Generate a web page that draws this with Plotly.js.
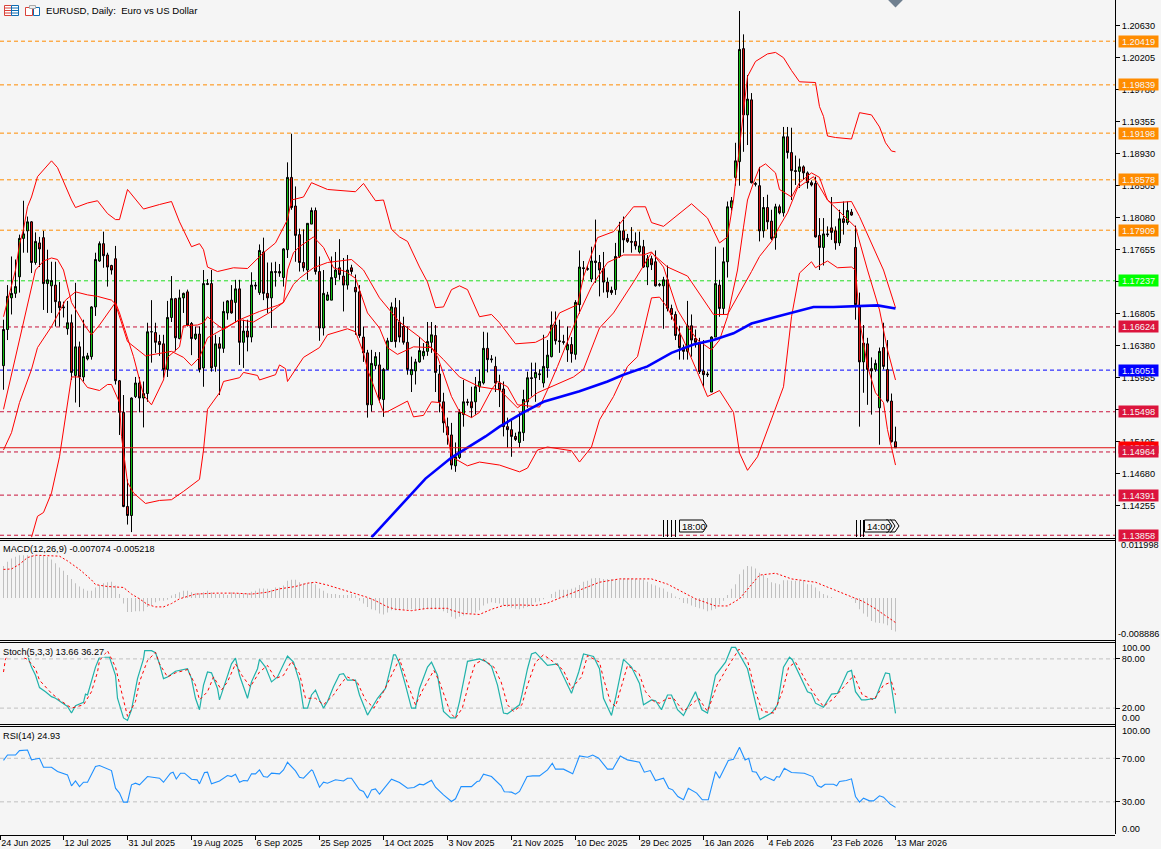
<!DOCTYPE html>
<html><head><meta charset="utf-8">
<script src="https://cdn.plot.ly/plotly-3.0.1.min.js"></script>
<style>html,body{margin:0;padding:0;background:#f5f5f5;overflow:hidden}</style>
</head><body><div id="chart" style="width:1161px;height:849px"></div>
<script>
const tickLabels=["24 Jun 2025","12 Jul 2025","31 Jul 2025","19 Aug 2025","6 Sep 2025","25 Sep 2025","14 Oct 2025","3 Nov 2025","21 Nov 2025","10 Dec 2025","29 Dec 2025","16 Jan 2026","4 Feb 2026","23 Feb 2026","13 Mar 2026"];
const tickBars=[-0.8,15,31,47,63,79,95,111,127,143,159,175,191,207,223];
const priceTicks=[1.20630,1.20205,1.19780,1.19355,1.18930,1.18505,1.18080,1.17655,1.17230,1.16805,1.16380,1.15955,1.15530,1.15105,1.14680,1.14255];

const open=[
1.1611,1.1659,1.1701,1.1707,1.1729,1.1780,1.1790,1.1802,1.1748,1.1774,
1.1781,1.1720,1.1717,1.1718,1.1696,1.1689,1.1660,1.1668,1.1598,1.1636,
1.1596,1.1620,1.1623,1.1689,1.1750,1.1773,1.1758,1.1744,1.1753,1.1591,
1.1549,1.1424,1.1412,1.1570,1.1588,1.1568,1.1574,1.1656,1.1655,1.1643,
1.1640,1.1606,1.1675,1.1700,1.1647,1.1701,1.1709,1.1667,1.1647,1.1653,
1.1608,1.1720,1.1720,1.1610,1.1640,1.1634,1.1681,1.1698,1.1695,1.1713,
1.1642,1.1657,1.1649,1.1718,1.1708,1.1762,1.1707,1.1701,1.1736,1.1736,
1.1728,1.1765,1.1861,1.1823,1.1785,1.1748,1.1738,1.1799,1.1817,1.1736,
1.1661,1.1698,1.1698,1.1728,1.1741,1.1730,1.1718,1.1741,1.1715,1.1709,
1.1649,1.1628,1.1559,1.1611,1.1612,1.1566,1.1606,1.1643,1.1688,1.1669,
1.1663,1.1642,1.1599,1.1604,1.1616,1.1624,1.1630,1.1642,1.1651,1.1600,
1.1563,1.1530,1.1519,1.1478,1.1489,1.1546,1.1563,1.1563,1.1563,1.1583,
1.1588,1.1634,1.1620,1.1610,1.1588,1.1580,1.1530,1.1526,1.1517,1.1509,
1.1522,1.1563,1.1595,1.1595,1.1599,1.1588,1.1608,1.1623,1.1665,1.1644,
1.1643,1.1632,1.1639,1.1626,1.1692,1.1741,1.1740,1.1726,1.1750,1.1748,
1.1740,1.1722,1.1711,1.1712,1.1756,1.1790,1.1780,1.1776,1.1776,1.1762,
1.1769,1.1742,1.1753,1.1749,1.1719,1.1717,1.1725,1.1687,1.1679,1.1652,
1.1635,1.1630,1.1664,1.1647,1.1642,1.1604,1.1600,1.1576,1.1649,1.1718,
1.1687,1.1749,1.1821,1.1861,1.1882,1.2032,1.1944,1.1964,1.1853,1.1850,
1.1790,1.1821,1.1803,1.1781,1.1822,1.1814,1.1915,1.1894,1.1870,1.1869,
1.1875,1.1867,1.1854,1.1853,1.1784,1.1768,1.1786,1.1794,1.1790,1.1774,
1.1806,1.1801,1.1815,1.1768,1.1689,1.1616,1.1640,1.1607,1.1606,1.1555,
1.1635,1.1606,1.1564,1.1510];
const high=[
1.1672,1.1718,1.1756,1.1752,1.1785,1.1830,1.1809,1.1803,1.1788,1.1782,
1.1790,1.1765,1.1749,1.1749,1.1722,1.1696,1.1697,1.1679,1.1721,1.1643,
1.1672,1.1628,1.1690,1.1761,1.1776,1.1789,1.1761,1.1745,1.1770,1.1592,
1.1572,1.1460,1.1569,1.1596,1.1596,1.1590,1.1668,1.1698,1.1668,1.1652,
1.1652,1.1697,1.1730,1.1701,1.1712,1.1708,1.1712,1.1669,1.1663,1.1663,
1.1738,1.1726,1.1738,1.1652,1.1649,1.1696,1.1698,1.1718,1.1725,1.1725,
1.1672,1.1672,1.1735,1.1722,1.1772,1.1781,1.1748,1.1748,1.1749,1.1746,
1.1767,1.1881,1.1919,1.1849,1.1793,1.1792,1.1800,1.1821,1.1821,1.1756,
1.1738,1.1709,1.1756,1.1762,1.1779,1.1754,1.1758,1.1745,1.1732,1.1718,
1.1663,1.1632,1.1632,1.1629,1.1629,1.1608,1.1648,1.1695,1.1701,1.1698,
1.1676,1.1663,1.1623,1.1620,1.1649,1.1641,1.1669,1.1669,1.1665,1.1612,
1.1575,1.1542,1.1535,1.1509,1.1553,1.1592,1.1567,1.1583,1.1596,1.1606,
1.1656,1.1655,1.1625,1.1623,1.1599,1.1590,1.1542,1.1539,1.1522,1.1549,
1.1579,1.1603,1.1615,1.1615,1.1606,1.1652,1.1645,1.1683,1.1683,1.1672,
1.1652,1.1663,1.1649,1.1698,1.1764,1.1750,1.1744,1.1769,1.1805,1.1758,
1.1762,1.1728,1.1716,1.1774,1.1802,1.1809,1.1786,1.1795,1.1788,1.1789,
1.1778,1.1758,1.1757,1.1764,1.1721,1.1729,1.1744,1.1692,1.1683,1.1664,
1.1639,1.1697,1.1679,1.1659,1.1648,1.1645,1.1603,1.1650,1.1769,1.1725,
1.1768,1.1829,1.1835,1.1907,1.2082,1.2051,1.1997,1.1973,1.1855,1.1875,
1.1835,1.1838,1.1818,1.1826,1.1825,1.1928,1.1928,1.1927,1.1890,1.1886,
1.1877,1.1869,1.1857,1.1862,1.1807,1.1807,1.1796,1.1835,1.1796,1.1818,
1.1829,1.1829,1.1819,1.1797,1.1708,1.1665,1.1648,1.1622,1.1619,1.1635,
1.1668,1.1645,1.1574,1.1530];
const low=[
1.1579,1.1645,1.1679,1.1701,1.1708,1.1761,1.1761,1.1734,1.1745,1.1742,
1.1685,1.1681,1.1681,1.1663,1.1663,1.1675,1.1652,1.1592,1.1562,1.1556,
1.1590,1.1618,1.1619,1.1677,1.1749,1.1741,1.1716,1.1732,1.1586,1.1519,
1.1423,1.1400,1.1390,1.1568,1.1549,1.1529,1.1563,1.1615,1.1628,1.1624,
1.1595,1.1596,1.1669,1.1630,1.1646,1.1681,1.1663,1.1625,1.1645,1.1602,
1.1583,1.1718,1.1603,1.1603,1.1572,1.1628,1.1672,1.1680,1.1669,1.1612,
1.1608,1.1630,1.1642,1.1712,1.1705,1.1698,1.1681,1.1661,1.1716,1.1729,
1.1716,1.1754,1.1818,1.1749,1.1736,1.1736,1.1725,1.1799,1.1732,1.1644,
1.1651,1.1697,1.1698,1.1718,1.1725,1.1683,1.1712,1.1732,1.1652,1.1648,
1.1616,1.1542,1.1550,1.1606,1.1562,1.1543,1.1606,1.1643,1.1635,1.1642,
1.1639,1.1599,1.1576,1.1586,1.1615,1.1619,1.1624,1.1628,1.1576,1.1549,
1.1522,1.1506,1.1473,1.1470,1.1487,1.1530,1.1558,1.1542,1.1546,1.1576,
1.1586,1.1602,1.1615,1.1576,1.1556,1.1517,1.1502,1.1490,1.1511,1.1502,
1.1511,1.1555,1.1570,1.1563,1.1592,1.1582,1.1595,1.1622,1.1639,1.1628,
1.1639,1.1616,1.1615,1.1619,1.1680,1.1725,1.1737,1.1722,1.1721,1.1703,
1.1708,1.1701,1.1705,1.1705,1.1754,1.1761,1.1774,1.1761,1.1765,1.1760,
1.1741,1.1718,1.1738,1.1716,1.1716,1.1660,1.1683,1.1672,1.1645,1.1619,
1.1619,1.1619,1.1623,1.1635,1.1600,1.1583,1.1596,1.1576,1.1649,1.1676,
1.1679,1.1728,1.1817,1.1850,1.1850,1.1895,1.1904,1.1853,1.1849,1.1776,
1.1781,1.1792,1.1778,1.1765,1.1812,1.1809,1.1886,1.1831,1.1851,1.1847,
1.1858,1.1846,1.1849,1.1781,1.1738,1.1744,1.1782,1.1778,1.1765,1.1770,
1.1785,1.1798,1.1810,1.1672,1.1530,1.1575,1.1559,1.1546,1.1603,1.1506,
1.1606,1.1562,1.1509,1.1502];
const close=[
1.1659,1.1703,1.1707,1.1716,1.1780,1.1786,1.1802,1.1748,1.1776,1.1766,
1.1720,1.1725,1.1724,1.1696,1.1688,1.1688,1.1668,1.1602,1.1636,1.1596,
1.1623,1.1624,1.1689,1.1752,1.1773,1.1757,1.1742,1.1738,1.1591,1.1549,
1.1424,1.1412,1.1568,1.1588,1.1568,1.1574,1.1656,1.1656,1.1642,1.1639,
1.1606,1.1675,1.1700,1.1648,1.1701,1.1707,1.1665,1.1647,1.1653,1.1606,
1.1720,1.1719,1.1608,1.1640,1.1634,1.1683,1.1697,1.1681,1.1713,1.1642,
1.1657,1.1649,1.1718,1.1717,1.1764,1.1707,1.1701,1.1736,1.1735,1.1734,
1.1766,1.1861,1.1821,1.1784,1.1748,1.1741,1.1800,1.1817,1.1736,1.1661,
1.1707,1.1705,1.1728,1.1738,1.1732,1.1718,1.1738,1.1736,1.1709,1.1651,
1.1628,1.1559,1.1614,1.1623,1.1567,1.1606,1.1644,1.1689,1.1643,1.1649,
1.1642,1.1606,1.1606,1.1616,1.1631,1.1630,1.1643,1.1652,1.1602,1.1563,
1.1535,1.1519,1.1479,1.1490,1.1549,1.1563,1.1562,1.1555,1.1583,1.1590,
1.1634,1.1619,1.1619,1.1588,1.1579,1.1530,1.1526,1.1517,1.1513,1.1523,
1.1566,1.1595,1.1594,1.1602,1.1600,1.1610,1.1625,1.1665,1.1644,1.1643,
1.1642,1.1639,1.1627,1.1695,1.1742,1.1740,1.1739,1.1750,1.1748,1.1738,
1.1722,1.1709,1.1708,1.1756,1.1790,1.1778,1.1776,1.1775,1.1770,1.1770,
1.1742,1.1753,1.1745,1.1717,1.1718,1.1725,1.1687,1.1679,1.1651,1.1635,
1.1630,1.1664,1.1645,1.1642,1.1603,1.1599,1.1599,1.1649,1.1720,1.1687,
1.1749,1.1822,1.1830,1.1883,1.2031,1.1944,1.1965,1.1854,1.1852,1.1790,
1.1821,1.1802,1.1780,1.1822,1.1814,1.1915,1.1894,1.1870,1.1869,1.1875,
1.1867,1.1854,1.1851,1.1782,1.1768,1.1786,1.1785,1.1788,1.1774,1.1806,
1.1801,1.1817,1.1811,1.1692,1.1616,1.1641,1.1606,1.1604,1.1614,1.1630,
1.1610,1.1564,1.1510,1.1502];

const bandUpperBar=[0,1,3,4,5,6,7,8.5,10,12,13.5,15,17,18,21,23.5,26,28,29,31,35,39,42,44,47,49,50,51,53.5,57.5,61,65,68,71,72,75,77,81,88,90,93,95,97,99,101,104,106,108,110,112,114,116,119,122,124,128,133,136,139,143.5,145,148.5,152.5,157.5,160.5,162,165,172,176,179,181,182.5,185,186,188,191,193,195,197,199,203,204,205,206,208,212,214,217,219,220.5,222,223];
const bandUpper=[1.1676,1.1698,1.1738,1.1772,1.1792,1.1822,1.1835,1.1862,1.1871,1.1883,1.1874,1.1855,1.1831,1.1821,1.1827,1.1830,1.1813,1.1805,1.1805,1.1845,1.1819,1.1825,1.1829,1.1802,1.1769,1.1773,1.1765,1.1742,1.1736,1.1741,1.1740,1.1761,1.1774,1.1805,1.1831,1.1835,1.1854,1.1845,1.1842,1.1853,1.1830,1.1831,1.1792,1.1782,1.1776,1.1742,1.1722,1.1688,1.1689,1.1712,1.1717,1.1712,1.1676,1.1679,1.1668,1.1640,1.1642,1.1650,1.1681,1.1692,1.1729,1.1781,1.1789,1.1822,1.1822,1.1801,1.1796,1.1826,1.1807,1.1774,1.1782,1.1831,1.1947,1.1995,1.2015,1.2025,1.2027,1.2020,1.2003,1.1988,1.1987,1.1955,1.1942,1.1916,1.1914,1.1912,1.1947,1.1944,1.1928,1.1907,1.1896,1.1895];
const bandMidBar=[0,2,4,7,8.5,12,15.5,18,21,23.5,27,28,31,35.5,42,45,47,49,51,55,59,64,68.5,70,72.5,74,77.5,81,87,90,94,99,104,107.5,110,114,119,124,128.5,133.5,140,142.5,145,149,152.5,157.5,162,166,171,177.5,181,185,187,189,192,194,196,198.5,202.5,206,207,212,214,220,223];
const bandMid=[1.1499,1.1522,1.1562,1.1606,1.1635,1.1663,1.1698,1.1709,1.1705,1.1703,1.1698,1.1693,1.1643,1.1624,1.1630,1.1622,1.1611,1.1622,1.1648,1.1660,1.1672,1.1683,1.1691,1.1695,1.1719,1.1727,1.1741,1.1748,1.1752,1.1738,1.1701,1.1669,1.1649,1.1632,1.1619,1.1596,1.1583,1.1579,1.1555,1.1575,1.1590,1.1596,1.1606,1.1661,1.1681,1.1722,1.1761,1.1742,1.1730,1.1679,1.1679,1.1716,1.1736,1.1756,1.1776,1.1796,1.1814,1.1847,1.1862,1.1831,1.1827,1.1829,1.1809,1.1738,1.1688];
const bandLowerBar=[7,8.5,10,12,14,16,17,19,21,24,26,27,29,29.5,31,32.5,35.5,39,42,45,49,50,51,54,55,59,60,63.5,64,68,69,70.5,71,75,79,81,86,88,90,91,94,95,96,99,101,102.5,105,107,109,110,112,116,119,124,129,131,133.5,136,142,144,147,149,152.5,156,158.5,162,164,166,170,173.5,176,179,182.5,184,186,188.5,192.5,195,197,199,202,203,206,208.5,212,213,214,216,218,220,221,223];
const bandLower=[1.1383,1.1411,1.1416,1.1442,1.1490,1.1562,1.1596,1.1596,1.1582,1.1578,1.1586,1.1586,1.1562,1.1517,1.1456,1.1442,1.1428,1.1432,1.1433,1.1444,1.1460,1.1499,1.1553,1.1575,1.1590,1.1595,1.1602,1.1598,1.1592,1.1599,1.1612,1.1607,1.1590,1.1622,1.1635,1.1652,1.1660,1.1656,1.1628,1.1606,1.1562,1.1549,1.1550,1.1559,1.1564,1.1543,1.1545,1.1563,1.1562,1.1549,1.1490,1.1478,1.1483,1.1479,1.1470,1.1475,1.1499,1.1503,1.1498,1.1483,1.1503,1.1539,1.1570,1.1610,1.1623,1.1701,1.1702,1.1688,1.1645,1.1602,1.1570,1.1578,1.1549,1.1495,1.1472,1.1490,1.1549,1.1583,1.1676,1.1734,1.1749,1.1741,1.1750,1.1741,1.1742,1.1738,1.1672,1.1610,1.1575,1.1562,1.1526,1.1479];
const fastMaBar=[0,8,10,12,13.5,15,17,20.5,22,24,28,29,32.5,35,37,40,41,44,45,48.5,50,51,52.5,55,59,62.5,67,70,71,72.5,74,77.5,80,82.5,85.5,88,91,94,96,98.5,102.5,107,108.5,112,114,117,119,122,123.5,126,128.5,134,136,138.5,143.5,147,151,155,160,162,165,168.5,171,173.5,177,179,181,182.5,183.5,185,186,187.5,189,190.5,193,194,197,199,202,204,206,213,216,219,221,223];
const fastMa=[1.1553,1.1738,1.1750,1.1754,1.1752,1.1738,1.1695,1.1663,1.1652,1.1665,1.1695,1.1681,1.1623,1.1572,1.1559,1.1592,1.1622,1.1636,1.1664,1.1665,1.1668,1.1676,1.1669,1.1659,1.1672,1.1669,1.1683,1.1695,1.1738,1.1761,1.1769,1.1782,1.1768,1.1741,1.1736,1.1727,1.1681,1.1661,1.1635,1.1626,1.1636,1.1635,1.1623,1.1570,1.1550,1.1542,1.1549,1.1579,1.1590,1.1583,1.1559,1.1556,1.1579,1.1610,1.1676,1.1716,1.1748,1.1758,1.1758,1.1762,1.1742,1.1685,1.1663,1.1645,1.1632,1.1645,1.1676,1.1716,1.1738,1.1795,1.1831,1.1854,1.1874,1.1879,1.1867,1.1845,1.1835,1.1854,1.1867,1.1861,1.1831,1.1795,1.1738,1.1685,1.1632,1.1592];
const slowMaBar=[92,99,105.5,112,120.5,124,130,135,139.5,144,151,155,161,167,172.5,177.5,182.5,187,192.5,197,202.5,207.5,218.5,223];
const slowMa=[1.1383,1.1423,1.1461,1.1489,1.1517,1.1530,1.1549,1.1563,1.1570,1.1577,1.1590,1.1599,1.1610,1.1628,1.1639,1.1645,1.1654,1.1667,1.1675,1.1681,1.1689,1.1689,1.1691,1.1687];

const levelsOrange=[1.20419,1.19839,1.19198,1.18578,1.17909];
const levelsGreen=[1.17237];
const levelsCrimson=[1.16624,1.15498,1.14964,1.14391,1.13858];
const levelsBlue=[1.16051];
const lastPrice=1.15020;

const macdHist=[
.0067,.0076,.0083,.0087,.0090,.0090,.0090,.0090,.0090,.0090,.0090,.0087,.0081,.0073,.0064,.0057,.0048,.0040,.0031,.0024,
.0019,.0015,.0015,.0022,.0027,.0031,.0033,.0034,.0026,.0008,-.0012,-.0030,-.0030,-.0028,-.0028,-.0028,-.0019,-.0015,-.0009,-.0006,
-.0006,-.0004,.0005,.0008,.0012,.0015,.0015,.0012,.0010,.0010,.0012,.0015,.0012,.0008,.0008,.0008,.0006,.0012,.0010,.0010,
.0010,.0010,.0013,.0015,.0020,.0020,.0019,.0017,.0022,.0022,.0026,.0036,.0038,.0038,.0033,.0031,.0031,.0033,.0029,.0020,
.0015,.0010,.0008,.0008,.0006,.0006,.0006,.0008,.0005,-.0006,-.0012,-.0019,-.0024,-.0026,-.0033,-.0035,-.0031,-.0026,-.0026,-.0026,
-.0024,-.0024,-.0024,-.0024,-.0024,-.0024,-.0024,-.0024,-.0024,-.0024,-.0028,-.0032,
-.0040,-.0044,-.0040,-.0037,-.0033,-.0033,-.0031,-.0026,-.0016,-.0012,-.0009,-.0011,-.0012,-.0016,-.0019,-.0021,-.0023,-.0024,-.0022,-.0019,
-.0016,-.0009,-.0007,-.0003,.0000,.0008,.0013,.0017,.0017,.0017,.0019,.0022,.0027,.0034,.0036,.0041,.0042,.0042,.0040,.0040,
.0040,.0038,.0038,.0041,.0041,.0041,.0040,.0038,.0038,.0034,.0029,.0026,.0022,.0020,.0013,.0010,.0003,-.0003,-.0011,-.0012,
-.0016,-.0019,-.0022,-.0024,-.0028,-.0026,-.0023,-.0014,-.0006,.0006,.0019,.0029,.0050,.0060,.0067,.0066,.0062,.0053,.0048,.0042,
.0033,.0031,.0029,.0037,.0037,.0036,.0036,.0036,.0036,.0029,.0028,.0022,.0014,.0008,.0005,.0002,.0000,.0000,.0000,.0000,
-.0002,-.0011,-.0024,-.0033,-.0040,-.0049,-.0052,-.0053,-.0054,-.0058,-.0068,-.0071];
const macdSigBar=[0,2,4,6,8,14,16,19,22,23,26,30,32,34,36,38,40,42,44,46,48,53,58,62,66,69,73,76,78,81,84,88,91,93,96,98,102,106,111,112,115,119,122,125,129,133,136,140,145,149,154,162,166,169,173,178,181,184,187,189,193,197,203,207,211,215,218,223];
const macdSignal=[.0060,.0061,.0071,.0085,.0090,.0088,.0078,.0060,.0038,.0028,.0024,.0022,.0008,-.0002,-.0014,-.0019,-.0019,-.0012,-.0002,.0003,.0008,.0010,.0010,.0008,.0012,.0019,.0024,.0031,.0033,.0027,.0019,.0008,.0001,-.0006,-.0019,-.0024,-.0027,-.0022,-.0022,-.0026,-.0033,-.0035,-.0024,-.0016,-.0015,-.0016,-.0011,.0003,.0019,.0033,.0040,.0040,.0029,.0015,-.0002,-.0017,-.0017,-.0002,.0029,.0048,.0052,.0040,.0033,.0019,.0005,-.0008,-.0023,-.0052];

const stochMainBar=[0,2,6,7,8,9,10.5,12,13,15,16,17,18,20,20.5,21,22,23,24,26.5,28,28.5,29.5,30,31,32,33.5,35,35.3,37,38,39,40,41,43,46,47,48,49,50,51,52,53.5,54,55.5,57,58,59,61,62,63.5,64,65.5,67,68.5,70,71,72.5,74,75,76,77,78,79,80,81,82.5,84,85,86,88,89,91,93.5,95.5,97,97.5,98,99,100.5,102,103,104,106,107,108.5,110,111.75,113,114,115.5,116,119,120.5,122,123.5,125,126,129,129.6,131,132,133,136,138.5,140,142,143.8,145,147.5,149,150,152,153,155,157,159,160,162,163,164.5,166,167,168.5,170,173,174.6,176,178,180.5,182,183,186,189,192,193.5,195,196.5,197.2,201,202,203,205,207,208.5,209.5,211,212,213,214.5,215.5,218,219,220.5,221.5,223];
const stochMain=[90,90,84,70,60,45,40,34,32,26,22,14,23,27,37,36,52,70,82,82,60,32,16,8,5,18,56,80,90,90,87.5,74,56,58,65,68,56,32,18,48,64,63,44,30,52,74,81,60,32,52,68,79.5,70,52,58,74,83.5,76,52,20,20,36,42,30,20,28,46,61,62,54,54,36,11.5,32,44,74,85,85,74,48,20,20,44,70,76,60,16,8,8,28,68,77,80,77,71,48,14,13,24,36,68,86,88,72,74,58,38,64,86,83,68,32,11,32,79.5,70,50,24,30,29,18,36,36,18,11,40,18,14,60,76,94,94,68,6,14,24,70,82,79,40,38,26,21,37,38,48,64,66,40,30,30,32,44,63,62,13.66];
const stochSigBar=[0,0.5,2,6,8,9,12,14,17,20,22,23.5,24,26,28,30,31,33,34,36,38,39,41,43,46,48,49,51,52.5,54.5,56,58,59.6,61.7,64,66,68,70,72,74,75.5,78,80,82.5,84.7,86,88.4,90.5,92.6,95,97,99,101,103,105,107.6,109,111.75,113,114.7,116.7,117.9,120,122.6,124.4,126,127.5,129.6,131,133,135,137.6,140,142,144.5,146,149,150,151.7,153,154.7,156,158.9,160.5,162.6,164,166,167.5,170,173.8,176,178.4,181,183.9,186,188,189.7,192.6,194.7,196.3,198,201,203.4,205,207.6,210,212.6,214.7,217.6,220,222,223];
const stochSignal=[64,80,88,79.4,68,54,38,30,20,24,40,64,78,90,70,32,10,28,52,78,88,74,58,63,67,48,30,40,58,42,52,74,60,46,64,72,56,60,77,62,32,32,24,36,52,58,52,30,20,40,60,80,50,24,44,66,52,14,7.5,20,56,74,79,70,52,24,16,24,48,76,85,76,66,44,58,84,76,56,28,22,50,72,62,40,28,26,32,32,16,32,16,48,70,92,78,40,16,14,40,70,76,50,32,22,32,46,60,36,30,48,52,36.27];

const rsiBar=[0,1,3,4,6,7,9,10,12,13.5,16,17,18,19,20,21,23,24,27,28,29,30,31,32,33,34,36,39,40,41.75,42.4,43.2,44.25,45.25,47,48.4,49,50.25,51,52,54,56,57,58,59,60,61,62,63,64,65,66,67,69,70,71,73,74,75,77,77.3,79,80,81,83,85,86,87,89,90,91,92,93,94,97,99,101,102.6,104,105,107,108,110,112,113,114.4,117,118.4,119,120,122,123.4,124.4,125.2,127,128,129,130.9,132.3,134,136,137.2,138,140,142.3,144,146,147.3,148.8,151,152.3,154.2,156,159,160.2,161.7,163,165,166.3,167.3,168.6,170,171.2,173.3,174.7,176.2,178,179,181.2,182.5,184,185.4,186.3,187.2,188.2,189.3,190.4,192.6,193.3,194,195.2,197,200.2,202.3,203.5,204.4,205.4,207.5,208.3,209,210.7,212,213,214,215,216.5,217.5,219,220,221.7,223];
const rsi=[68,73,73,77,77.6,68.5,70,61.8,61.8,57.8,54.7,44.7,49.2,44,48,48,62.4,63.3,58.7,42.5,38,29.7,29.7,45.6,47.1,45.6,53.2,51.7,48,56.3,57.2,51,56.3,56.3,50.8,50.2,46.5,56.9,57.2,46.5,49.2,54.1,53.2,55.4,48,49.6,49.2,55.7,55.7,59.3,53.2,52.6,56.3,55.7,59.3,66.3,58.4,52.6,51.7,59.3,58.7,43.4,48,47.1,50.2,49.2,51.7,51.7,41,39.5,33.4,41,41.9,37,50.8,47.7,42.5,43.1,46.2,45.6,49.9,43.4,36.4,30.3,32.8,44,44,48.6,49.2,55.4,53.2,48,44.7,39.2,38.9,37,39.5,53.2,53.8,53.8,59.3,65.4,60,60,55.7,72.1,70.9,73,70,60,60,72.1,68.5,66.3,57.2,58.7,49.6,51.7,42.5,41,34.9,31.9,42.5,38,31.9,31.9,57.8,51.7,67.9,69.1,80.1,68.5,70,57.8,57.2,50.2,53.2,49.6,53.2,52.6,60.8,56.9,56.3,53.2,45,43.4,46.2,46.2,44.7,48.6,49.6,51.1,34.9,29.7,33.4,30.9,30.9,35.5,34.3,27.9,24.93];

const W=1161,H=849,AXIS_X=1115;
const BG='#f5f5f5';
const FONT='"Liberation Sans",Arial,sans-serif';
const SMALL=9.2;
const bars=open.map((_,i)=>i);
const px=x=>x/W, py=y=>1-y/H;

function redLine(x,y,name){return {type:'scatter',mode:'lines',x,y,name,xaxis:'x',yaxis:'y',line:{color:'#ff0000',width:1},hoverinfo:'skip'};}

const traces=[
 {type:'candlestick',x:bars,open,high,low,close,xaxis:'x',yaxis:'y',name:'EURUSD',whiskerwidth:0,
  increasing:{line:{color:'#000000',width:1},fillcolor:'#14c814'},
  decreasing:{line:{color:'#000000',width:1},fillcolor:'#e01414'},hoverinfo:'skip'},
 redLine(bandUpperBar,bandUpper,'BB upper'),
 redLine(bandMidBar,bandMid,'BB middle'),
 redLine(bandLowerBar,bandLower,'BB lower'),
 redLine(fastMaBar,fastMa,'MA fast'),
 {type:'scatter',mode:'lines',x:slowMaBar,y:slowMa,name:'MA slow',xaxis:'x',yaxis:'y',line:{color:'#0000ff',width:2.6},hoverinfo:'skip'},
 {type:'scatter',mode:'markers',x:[223],y:[1.2098],xaxis:'x',yaxis:'y',marker:{symbol:'diamond',size:13,color:'#708090'},hoverinfo:'skip'},
 {type:'bar',x:bars,y:macdHist,xaxis:'x',yaxis:'y2',width:0.25,marker:{color:'#c0c0c0',line:{width:0}},hoverinfo:'skip',name:'MACD'},
 {type:'scatter',mode:'lines',x:macdSigBar,y:macdSignal,xaxis:'x',yaxis:'y2',line:{color:'#ff0000',width:1,dash:'2px,2px'},hoverinfo:'skip',name:'Signal'},
 {type:'scatter',mode:'lines',x:stochMainBar,y:stochMain,xaxis:'x',yaxis:'y3',line:{color:'#20b2aa',width:1.2},hoverinfo:'skip',name:'Stoch'},
 {type:'scatter',mode:'lines',x:stochSigBar,y:stochSignal,xaxis:'x',yaxis:'y3',line:{color:'#ff0000',width:1,dash:'3px,3px'},hoverinfo:'skip',name:'Stoch signal'},
 {type:'scatter',mode:'lines',x:rsiBar,y:rsi,xaxis:'x',yaxis:'y4',line:{color:'#1e90ff',width:1.1},hoverinfo:'skip',name:'RSI'}
];

const shapes=[];
function level(v,color){shapes.push({type:'line',xref:'paper',x0:0,x1:px(AXIS_X),yref:'y',y0:v,y1:v,layer:'below',line:{color,width:1,dash:'4px,3px'}});}
levelsOrange.forEach(v=>level(v,'#ff8c00'));
levelsGreen.forEach(v=>level(v,'#22dd22'));
levelsCrimson.forEach(v=>level(v,'#c8143c'));
levelsBlue.forEach(v=>level(v,'#0000ff'));
shapes.push({type:'line',xref:'paper',x0:0,x1:px(AXIS_X),yref:'y',y0:lastPrice,y1:lastPrice,line:{color:'#e01010',width:1}});
function osc(yref,v){shapes.push({type:'line',xref:'paper',x0:0,x1:px(AXIS_X),yref,y0:v,y1:v,layer:'below',line:{color:'#c0c0c0',width:1,dash:'4px,3px'}});}
[80,20].forEach(v=>osc('y3',v));
[70,30].forEach(v=>osc('y4',v));
[538.5,540.5,640.5,642.5,724.5,726.5].forEach(y=>shapes.push({type:'line',xref:'paper',yref:'paper',x0:0,x1:px(AXIS_X+1),y0:py(y),y1:py(y),line:{color:'#000',width:1}}));
shapes.push({type:'line',xref:'paper',yref:'paper',x0:px(AXIS_X+.5),x1:px(AXIS_X+.5),y0:py(0),y1:py(834),line:{color:'#000',width:1}});
function rect(x0,y0,x1,y1,line,fill){shapes.push({type:'rect',xref:'paper',yref:'paper',x0:px(x0),x1:px(x1),y0:py(y0),y1:py(y1),line:{color:line,width:1},fillcolor:fill||'rgba(0,0,0,0)'});}
function seg(x0,y0,x1,y1,c,w){shapes.push({type:'line',xref:'paper',yref:'paper',x0:px(x0),x1:px(x1),y0:py(y0),y1:py(y1),line:{color:c,width:w||1}});}
rect(4.5,5.5,11.5,15.5,'#d9423a','#fff');rect(11.5,5.5,18.5,15.5,'#0f6db3','#fff');
[8,10.5,13].forEach(y=>{seg(5,y,11,y,'#d9423a');seg(12,y,18,y,'#0f6db3');});
rect(25.5,7.5,32.5,15.5,'#d9423a','#fff');rect(33.5,7.5,39.5,15.5,'#0f6db3','#fff');rect(29.5,5.5,35.5,8.5,'#a9a9a9','#eee');
[663.5,667.5,671.5,675.5].forEach(x=>seg(x,520,x,537,'#000'));
[856.5,860.5,863.5].forEach(x=>seg(x,520,x,537,'#000'));
function pin(x0,x1,xt){shapes.push({type:'path',xref:'paper',yref:'paper',path:`M ${px(x0)} ${py(520)} L ${px(x1)} ${py(520)} L ${px(xt)} ${py(526)} L ${px(x1)} ${py(532)} L ${px(x0)} ${py(532)} Z`,line:{color:'#000',width:1},fillcolor:BG});}
pin(890,895,899);pin(886,891,895);
pin(679.5,703,707);pin(864.5,888,892);

const anns=[];
function txt(x,y,text,extra){anns.push(Object.assign({xref:'paper',yref:'paper',x:px(x),y:py(y),text,showarrow:false,xanchor:'left',yanchor:'middle',font:{family:FONT,size:SMALL,color:'#000'},borderpad:0},extra||{}));}
txt(45,10.5,'EURUSD, Daily:&nbsp; Euro vs US Dollar',{font:{family:FONT,size:9.6,color:'#000'}});
txt(2,548.5,'MACD(12,26,9) -0.007074 -0.005218');
txt(2,651.5,'Stoch(5,3,3) 13.66 36.27',{bgcolor:BG});
txt(2,735.5,'RSI(14) 24.93');
txt(681,526,'18:00',{font:{family:FONT,size:9.5,color:'#000'}});
txt(866,526,'14:00',{font:{family:FONT,size:9.5,color:'#000'}});
txt(1120,544.5,'0.011998');
txt(1117,634,'-0.008886');
[['100.00',648],['0.00',718],['100.00',731],['0.00',829]].forEach(a=>txt(1121,a[1],a[0]));
function tag(v,bg,fg){anns.push({xref:'paper',yref:'y',x:px(1118),y:v,xanchor:'left',yanchor:'middle',text:v.toFixed(5),showarrow:false,bgcolor:bg,width:39,height:11,borderpad:0,align:'center',font:{family:FONT,size:SMALL,color:fg||'#f5f5f5'}});}
levelsOrange.forEach(v=>tag(v,'#ff8c00'));
levelsGreen.forEach(v=>tag(v,'#00ff00','#f5f5f5'));
tag(lastPrice,'#ff0000');
levelsBlue.forEach(v=>tag(v,'#0000ff'));
levelsCrimson.forEach(v=>tag(v,'#dc143c'));

function yAxis(top,bottom,range,tickvals,ticktext){return {domain:[py(bottom),py(top)],range,side:'right',anchor:'x',fixedrange:true,
 showgrid:false,zeroline:false,showline:false,ticks:tickvals.length?'outside':'',ticklen:4,tickcolor:'#000',tickwidth:1,tickmode:'array',tickvals,ticktext,
 tickfont:{family:FONT,size:SMALL,color:'#000'}};}

const layout={width:W,height:H,margin:{l:0,r:0,t:0,b:0,pad:0},paper_bgcolor:BG,plot_bgcolor:BG,showlegend:false,boxgap:0.3,barmode:'overlay',
 font:{family:FONT,size:10,color:'#000'},
 xaxis:{domain:[0,px(AXIS_X)],range:[-0.875,277.875],anchor:'y4',rangeslider:{visible:false},fixedrange:true,showgrid:false,zeroline:false,showline:true,linecolor:'#000',linewidth:1,
  ticks:'outside',ticklen:4,tickcolor:'#000',tickmode:'array',tickvals:tickBars,ticktext:tickLabels,ticklabelposition:'outside right',ticklabeloverflow:'allow',tickangle:0,
  tickfont:{family:FONT,size:9,color:'#000'}},
 yaxis:yAxis(0,537.5,[1.20966-537.5*0.0001328,1.20966],priceTicks,priceTicks.map(v=>v.toFixed(5))),
 yaxis2:yAxis(541,640,[-0.008886,0.011998],[],[]),
 yaxis3:yAxis(642.5,724.5,[0,100],[80,20],['80.00','20.00']),
 yaxis4:yAxis(725.6,834.5,[0,100],[70,30],['70.00','30.00']),
 shapes,annotations:anns};
Plotly.newPlot('chart',traces,layout,{displayModeBar:false,staticPlot:true});
</script></body></html>
